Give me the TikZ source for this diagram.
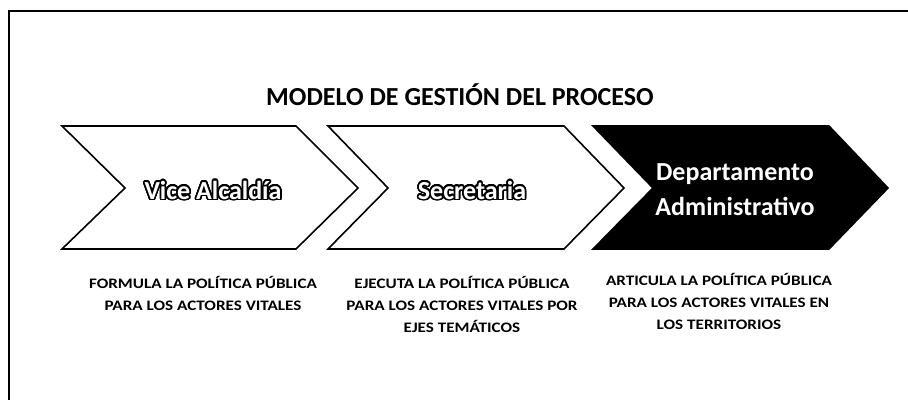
\documentclass[tikz,border=0pt]{standalone}
\usepackage{fontspec}
\setmainfont{Carlito}
\newfontfamily\widefont[FakeStretch=1.18]{Carlito}
\usepackage[copies]{contour}
\contourlength{1.6pt}
\contournumber{24}

\begin{document}
\begin{tikzpicture}[x=1pt,y=-1pt,
        frame/.style = {line width=2.5pt},
        chev/.style = {draw=black, line width=1.6pt, line join=miter},
        head/.style = {font=\bfseries\fontsize{26}{30}\selectfont},
        inner/.style = {font=\bfseries\fontsize{26}{35}\selectfont, align=center},
        lbl/.style = {font=\widefont\bfseries\fontsize{14.5}{22}\selectfont, align=center}]
        \useasboundingbox (0,0) rectangle (908,400);
        \draw[frame] (908,11) -- (9,11) -- (9,400);
        \node[head] (title) at (460,95) {MODELO DE GESTIÓN DEL PROCESO};
        % chevrons
        \draw[chev, fill=white] (62,126) -- (296,126) -- (358,188) -- (296,249) -- (62,249) -- (125,188) -- cycle;
        \draw[chev, fill=white] (328,126) -- (564,126) -- (624,188) -- (564,249) -- (328,249) -- (388,188) -- cycle;
        \draw[chev, fill=black] (593,126) -- (829,126) -- (888,188) -- (829,249) -- (593,249) -- (653,188) -- cycle;
        \node[inner] (vice) at (213,191) {\contour{black}{\textcolor{white}{Vice Alcaldía}}};
        \node[inner] (secre) at (472,191) {\contour{black}{\textcolor{white}{Secretaria}}};
        \node[inner, text=white] (depto) at (735,190) {Departamento\\Administrativo};
        % labels below
        \node[lbl] (txtvice) at (203,293) {FORMULA LA POLÍTICA PÚBLICA\\PARA LOS ACTORES VITALES};
        \node[lbl] (txtsecre) at (462,304) {EJECUTA LA POLÍTICA PÚBLICA\\PARA LOS ACTORES VITALES POR\\EJES TEMÁTICOS};
        \node[lbl] (txtdepto) at (719,301) {ARTICULA LA POLÍTICA PÚBLICA\\PARA LOS ACTORES VITALES EN\\LOS TERRITORIOS};
\end{tikzpicture}
\end{document}
